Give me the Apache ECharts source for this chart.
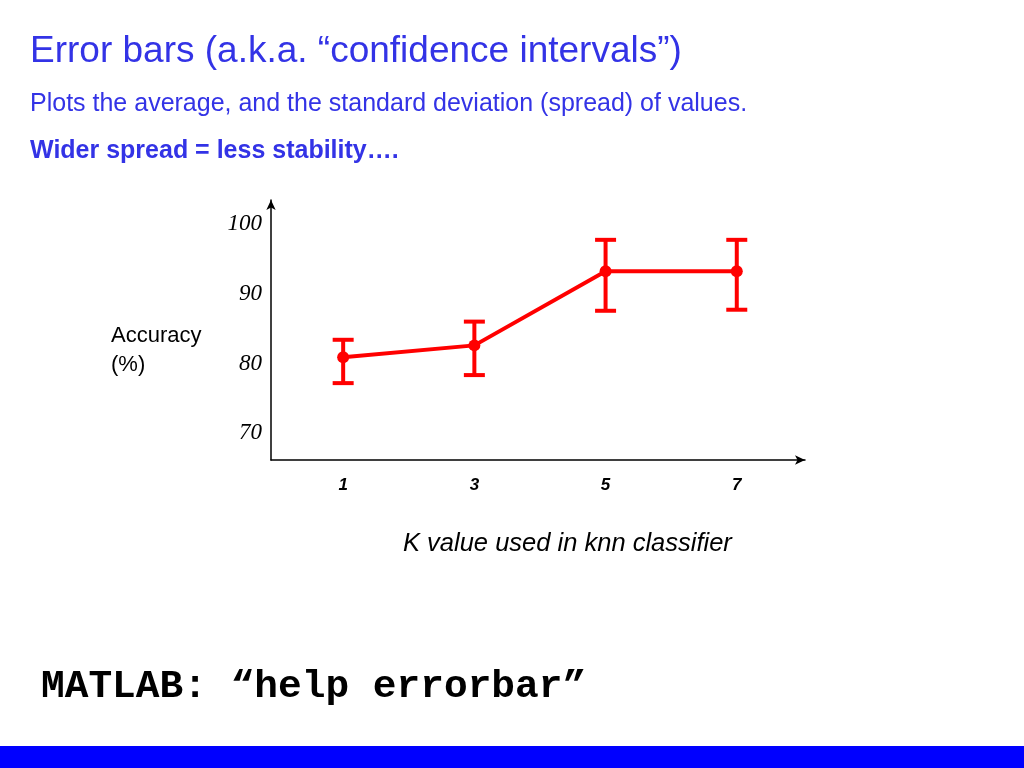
<!DOCTYPE html>
<html>
<head>
<meta charset="utf-8">
<script src="https://cdn.jsdelivr.net/npm/echarts@6/dist/echarts.min.js"></script>
<style>
html,body{margin:0;padding:0;background:#fff;}
#chart{width:1024px;height:768px;}
</style>
</head>
<body>
<div id="chart"></div>
<script>
// Data
const kValues = [1, 3, 5, 7];
const accuracyMean = [80.9, 82.6, 93.2, 93.2];
const accuracyLow = [77.2, 78.35, 87.55, 87.7];
const accuracyHigh = [83.4, 86.0, 97.7, 97.7];
const yTickLabels = [70, 80, 90, 100];
const xTickLabels = [1, 3, 5, 7];

const titleText = 'Error bars (a.k.a. \u201cconfidence intervals\u201d)';
const subtitleText = 'Plots the average, and the standard deviation (spread) of values.';
const noteText = 'Wider spread = less stability\u2026.';
const matlabText = 'MATLAB: \u201chelp errorbar\u201d';
const xAxisTitle = 'K value used in knn classifier';
const yAxisTitle = 'Accuracy\n(%)';

const blue = '#3333e6';
const red = '#ff0000';

const chart = echarts.init(document.getElementById('chart'));

const meanData = kValues.map((k, i) => [k, accuracyMean[i]]);
const errData = kValues.map((k, i) => [k, accuracyLow[i], accuracyHigh[i]]);

chart.setOption({
  animation: false,
  backgroundColor: '#ffffff',
  grid: { left: 271, right: 219, top: 200, bottom: 308, containLabel: false },
  xAxis: {
    type: 'value',
    min: -0.1,
    max: 8.04,
    splitLine: { show: false },
    axisTick: { show: false },
    axisLine: { show: true, onZero: false, symbol: ['none', 'arrow'], symbolSize: [7, 10], lineStyle: { color: '#000', width: 1.5 } },
    axisLabel: {
      customValues: xTickLabels,
      margin: 17,
      fontFamily: 'Liberation Sans, Arial',
      fontStyle: 'italic',
      fontWeight: 'bold',
      fontSize: 17,
      color: '#000'
    }
  },
  yAxis: {
    type: 'value',
    min: 66.2,
    max: 103.4,
    splitLine: { show: false },
    axisTick: { show: false },
    axisLine: { show: true, onZero: false, symbol: ['none', 'arrow'], symbolSize: [7, 10], lineStyle: { color: '#000', width: 1.5 } },
    axisLabel: {
      customValues: yTickLabels,
      margin: 9,
      fontFamily: 'Liberation Serif, Times New Roman',
      fontStyle: 'italic',
      fontSize: 23,
      color: '#000'
    }
  },
  series: [
    {
      type: 'custom',
      data: errData,
      z: 3,
      renderItem: function (params, api) {
        const x = api.value(0);
        const top = api.coord([x, api.value(2)]);
        const bot = api.coord([x, api.value(1)]);
        const hw = 10.5;
        const style = { stroke: red, lineWidth: 4 };
        return {
          type: 'group',
          children: [
            { type: 'line', shape: { x1: top[0], y1: top[1], x2: bot[0], y2: bot[1] }, style: style },
            { type: 'line', shape: { x1: top[0] - hw, y1: top[1], x2: top[0] + hw, y2: top[1] }, style: style },
            { type: 'line', shape: { x1: bot[0] - hw, y1: bot[1], x2: bot[0] + hw, y2: bot[1] }, style: style }
          ]
        };
      }
    },
    {
      type: 'line',
      data: meanData,
      z: 4,
      symbol: 'circle',
      symbolSize: 12,
      lineStyle: { color: red, width: 4 },
      itemStyle: { color: red },
      label: { show: false }
    }
  ],
  graphic: [
    { type: 'text', left: 30, top: 33, style: { text: titleText, font: '37px "Liberation Sans", Arial', fill: blue } },
    { type: 'text', left: 30, top: 92, style: { text: subtitleText, font: '25px "Liberation Sans", Arial', fill: blue } },
    { type: 'text', left: 30, top: 139, style: { text: noteText, font: 'bold 25px "Liberation Sans", Arial', fill: blue } },
    { type: 'text', left: 111, top: 321, style: { text: yAxisTitle, font: '22px "Liberation Sans", Arial', fill: '#000', lineHeight: 29 } },
    { type: 'text', left: 403, top: 531, style: { text: xAxisTitle, font: 'italic 25.5px "Liberation Sans", Arial', fill: '#000' } },
    { type: 'text', left: 41, top: 667, style: { text: matlabText, font: 'bold 39.5px "Liberation Mono", "Courier New", monospace', fill: '#000' } },
    { type: 'rect', left: 0, top: 746, shape: { width: 1024, height: 22 }, style: { fill: '#0000ff' } }
  ]
});
</script>
</body>
</html>
